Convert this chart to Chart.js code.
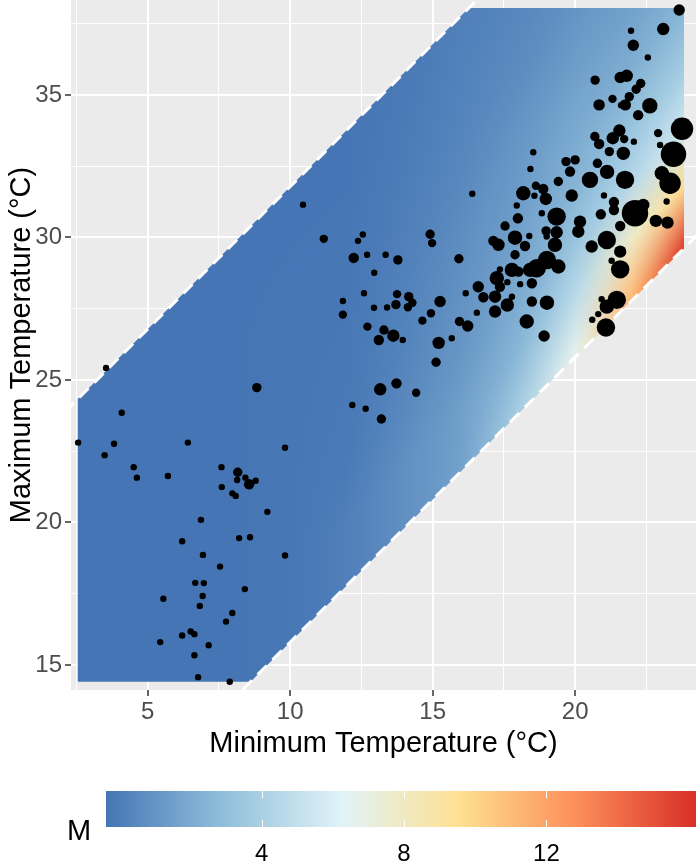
<!DOCTYPE html>
<html>
<head>
<meta charset="utf-8">
<script src="https://cdn.jsdelivr.net/npm/chart.js@4.4.1/dist/chart.umd.min.js"></script>
<style>
  html, body { margin: 0; padding: 0; background: #fff; }
</style>
</head>
<body>
<canvas id="chart" width="696" height="861"></canvas>
<script>
// observed days: minimum / maximum temperature (°C) and marker size value
const tminVals = [
  2.56,3.54,4.09,3.82,3.49,4.51,4.62,5.71,6.41,8.83,9.82,7.59,8.16,8.14,8.43,8.56,8.79,7.60,7.97,8.09,9.20,6.87,6.21,8.21,8.59,6.94,9.82,7.54,6.67,6.97,8.41,5.55,6.93,6.83,7.97,7.75,5.44,6.21,6.51,6.64,7.14,6.64,6.77,7.88,
  10.45,11.18,12.55,12.38,12.23,12.70,13.35,13.78,12.95,14.91,14.98,12.59,11.85,11.85,12.94,13.40,13.75,13.71,14.16,14.29,14.13,15.26,14.94,14.64,12.71,13.29,13.62,13.11,13.95,15.21,15.12,13.16,13.73,14.42,12.18,12.65,13.20,
  18.53,18.43,
  23.65,23.09,21.96,22.04,22.55,20.70,21.58,21.81,22.30,22.14,21.90,21.31,20.84,21.76,21.61,22.62,22.21,23.75,22.91,22.98,23.45,21.55,21.32,20.69,20.84,21.72,22.06,21.20,21.69,19.68,20.00,20.78,21.12,
  19.82,20.52,21.75,19.88,21.01,21.36,21.36,20.90,22.10,22.39,22.83,23.24,23.21,23.33,23.04,20.17,20.11,21.58,21.11,20.58,21.58,21.28,21.58,21.46,21.11,20.93,20.81,20.60,21.08,
  16.39,18.18,18.62,18.88,18.97,18.57,19.41,17.95,17.99,18.83,19.35,17.54,18.98,19.35,17.89,18.39,17.13,17.31,18.24,19.00,19.29,15.92,17.89,19.01,18.65,18.42,17.78,18.01,17.36,19.41,17.25,18.48,18.07,17.62,17.36,16.60,16.16,16.78,17.19,17.78,17.62,18.48,19.01,16.55,17.19,18.30,15.94,16.23,18.91,15.67
];
const tmaxVals = [
  22.80,25.42,23.85,22.76,22.36,21.94,21.57,21.63,22.80,24.73,22.62,21.94,21.76,21.49,21.57,21.34,21.46,21.24,21.02,20.93,20.37,20.09,19.34,19.45,19.48,18.86,18.84,18.45,17.88,17.87,17.66,17.32,17.42,17.07,16.82,16.52,15.80,16.03,16.17,16.08,15.69,15.34,14.57,14.41,
  31.15,29.95,30.10,29.88,29.28,29.39,29.39,29.21,28.76,30.11,29.80,28.04,27.77,27.29,27.53,27.54,28.01,27.64,27.92,27.71,27.55,27.75,27.34,27.08,26.87,26.75,26.55,26.40,26.40,26.30,25.62,24.67,24.88,24.55,24.12,23.99,23.63,
  32.99,32.40,
  37.98,37.31,37.25,36.74,36.31,35.52,35.61,35.67,35.40,35.20,34.94,34.86,34.65,34.65,34.64,34.62,34.29,33.81,33.66,33.24,32.92,33.75,33.48,33.54,33.28,33.45,33.36,33.01,32.95,32.66,32.72,32.60,32.30,
  32.31,32.02,32.02,31.47,31.47,31.24,30.96,30.81,30.85,31.14,30.58,30.52,31.26,31.90,32.25,30.55,30.20,30.40,29.91,29.68,29.50,29.18,28.88,27.81,27.57,27.83,27.31,27.11,26.84,
  31.53,31.55,31.81,31.70,31.35,31.46,31.96,31.12,30.67,30.85,30.73,30.40,30.23,30.18,29.99,30.05,29.88,29.74,29.70,30.03,29.74,29.25,29.39,29.21,28.92,28.86,28.86,28.80,28.88,28.98,28.57,28.39,28.36,28.43,28.27,28.27,28.04,27.90,27.92,27.92,27.63,27.75,27.71,27.36,27.40,27.05,27.05,26.89,26.54,26.46
];
const sizeVals = [
  0,0,0,0,0,0,0,0,0,1.5,0,0,1.5,0,0,2,0,0,0,0,0,0,0,0,0,0,0,0,0,0,0,0,0,0,0,0,0,0,0,0,0,0,0,0,
  0,1,0,0,2,0,0,1.5,0,1.5,1,0,0,1,0,0,1,1.5,1.5,1,1,2.5,1,1,1,1.5,3,2,0,3,1.5,3,2,1,0,0,1.5,
  0,0,
  2.5,3,0,2.5,0,1.5,2.5,3,1.5,1.5,1.5,1,2.5,2.5,0,4.5,2,8,1,0,9.5,3,3,1.5,2,1,0,1.5,3.5,1.5,1.5,1.5,4,
  2,5,6,3,0,2,2,2,10,3,3,3,0,7.5,4,3,3,2,6,3,3,0,6,6,4,0,0,0,6,
  0,4,1,2,3,0,1.5,0,2,0,6,1.5,1.5,3,4,0,2,3,2,0,4,1.5,1.5,6,6,4,4,2,0,4,4,2,0,0,2,2.5,0,2,3,0,3.5,2,4,0,3,4,1.5,2.5,2.5,0
];

// modelled surface M: rows = diurnal range (Tmax - Tmin), columns = Tmin
const gridTmin = [2, 4, 6, 8, 10, 12, 14, 16, 18, 20, 22, 24];
const gridRange = [4, 6, 8, 10, 12, 14, 16, 18, 20, 22];
const gridM = [
  [-0.37,-0.37,-0.37,-0.37,-0.3, 0.2, 1.0, 2.2, 4.8, 8.4,13.2,17.5],
  [-0.37,-0.37,-0.37,-0.37,-0.3, 0.1, 0.8, 1.6, 3.8, 6.6,11.0,15.8],
  [-0.37,-0.37,-0.37,-0.37,-0.3, 0.1, 0.8, 1.5, 2.6, 4.6, 7.8, 9.8],
  [-0.37,-0.37,-0.37,-0.37,-0.3,-0.1, 0.5, 1.1, 2.0, 3.2, 4.5, 5.6],
  [-0.37,-0.37,-0.37,-0.37,-0.3,-0.2, 0.3, 0.9, 1.6, 2.4, 3.2, 3.9],
  [-0.37,-0.37,-0.37,-0.37,-0.3,-0.25,0.2, 0.7, 1.3, 1.9, 2.2, 2.7],
  [-0.37,-0.37,-0.37,-0.37,-0.3,-0.3, 0.1, 0.5, 1.0, 1.4, 1.6, 2.0],
  [-0.37,-0.37,-0.37,-0.37,-0.3,-0.3, 0.0, 0.3, 0.6, 1.0, 1.3, 1.6],
  [-0.37,-0.37,-0.37,-0.37,-0.35,-0.35,-0.1,0.2, 0.4, 0.7, 1.0, 1.2],
  [-0.37,-0.37,-0.37,-0.37,-0.37,-0.37,-0.2,0.1, 0.3, 0.5, 0.8, 1.0]
];

// extent of the modelled region
const tminLimits = [2.55, 23.82];
const tmaxLimits = [14.41, 38.05];
const rangeLimits = [5.8, 21.78];   // dashed lines: Tmax = Tmin + range

// axes and colour bar
const xLimits = [2.31, 24.24];
const yLimits = [14.12, 38.33];
const mLimits = [-0.37, 16.2];
const mTicks = [4, 8, 12];
const palette = ['#4575b4', '#91bfdb', '#e0f3f8', '#fee090', '#fc8d59', '#d73027'];

const FONT = "'Liberation Sans', Arial, sans-serif";
Chart.defaults.font.family = FONT;

function hexToRgb(h) {
  const n = parseInt(h.slice(1), 16);
  return [(n >> 16) & 255, (n >> 8) & 255, n & 255];
}
const palRgb = palette.map(hexToRgb);

function colourFor(m) {
  let t = (m - mLimits[0]) / (mLimits[1] - mLimits[0]);
  t = Math.min(1, Math.max(0, t)) * (palRgb.length - 1);
  const i = Math.min(Math.floor(t), palRgb.length - 2);
  const f = t - i;
  const a = palRgb[i], b = palRgb[i + 1];
  return [0, 1, 2].map(k => Math.round(a[k] + (b[k] - a[k]) * f));
}

const panelBg = {
  id: 'panelBg',
  beforeDraw(chart) {
    const { ctx, chartArea: a } = chart;
    ctx.save();
    ctx.fillStyle = '#ebebeb';
    ctx.fillRect(a.left, a.top, a.width, a.height);
    ctx.restore();
  }
};

const surface = {
  id: 'surface',
  beforeDatasetsDraw(chart) {
    const { ctx, chartArea: a, scales: { x, y } } = chart;
    const nc = gridTmin.length, nr = gridRange.length;
    const off = document.createElement('canvas');
    off.width = nc; off.height = nr;
    const octx = off.getContext('2d');
    const img = octx.createImageData(nc, nr);
    for (let j = 0; j < nr; j++) {
      for (let i = 0; i < nc; i++) {
        const c = colourFor(gridM[j][i]);
        const p = (j * nc + i) * 4;
        img.data[p] = c[0]; img.data[p + 1] = c[1]; img.data[p + 2] = c[2]; img.data[p + 3] = 255;
      }
    }
    octx.putImageData(img, 0, 0);

    const [t0, t1] = tminLimits, [h0, h1] = tmaxLimits, [r0, r1] = rangeLimits;
    const poly = [[t0, h0], [h0 - r0, h0], [t1, t1 + r0], [t1, h1], [h1 - r1, h1], [t0, t0 + r1]];

    ctx.save();
    ctx.beginPath();
    ctx.rect(a.left, a.top, a.width, a.height);
    ctx.clip();
    ctx.beginPath();
    poly.forEach(([tx, ty], k) => {
      const px = x.getPixelForValue(tx), py = y.getPixelForValue(ty);
      if (k) ctx.lineTo(px, py); else ctx.moveTo(px, py);
    });
    ctx.closePath();
    ctx.clip();

    // grid cell (i, j) sits at (Tmin, Tmin + range): an affine map onto the plot
    const ax = x.getPixelForValue(0), bx = x.getPixelForValue(1) - ax;
    const ay = y.getPixelForValue(0), by = y.getPixelForValue(1) - ay;
    const dT = gridTmin[1] - gridTmin[0], dR = gridRange[1] - gridRange[0];
    const T0 = gridTmin[0] - dT / 2, R0 = gridRange[0] - dR / 2;
    ctx.imageSmoothingEnabled = true;
    ctx.transform(bx * dT, by * dT, 0, by * dR, ax + bx * T0, ay + by * (T0 + R0));
    ctx.drawImage(off, 0, 0);
    ctx.restore();
  }
};

const colourbar = {
  id: 'colourbar',
  afterDraw(chart) {
    const ctx = chart.ctx;
    const left = 106, right = 696, top = 791, h = 36;
    const mx = m => left + (m - mLimits[0]) / (mLimits[1] - mLimits[0]) * (right - left);
    ctx.save();
    const g = ctx.createLinearGradient(left, 0, right, 0);
    palette.forEach((c, k) => g.addColorStop(k / (palette.length - 1), c));
    ctx.fillStyle = g;
    ctx.fillRect(left, top, right - left, h);
    ctx.strokeStyle = '#fff';
    ctx.lineWidth = 1;
    mTicks.forEach(m => {
      const px = Math.round(mx(m)) + 0.5;
      ctx.beginPath();
      ctx.moveTo(px, top); ctx.lineTo(px, top + h / 5);
      ctx.moveTo(px, top + h); ctx.lineTo(px, top + h * 4 / 5);
      ctx.stroke();
    });
    ctx.fillStyle = '#000';
    ctx.textAlign = 'center';
    ctx.textBaseline = 'alphabetic';
    ctx.font = '24px ' + FONT;
    mTicks.forEach(m => ctx.fillText(String(m), mx(m), 861));
    ctx.font = '29px ' + FONT;
    ctx.fillText('M', 79, 840);
    ctx.restore();
  }
};

const isMajor = c => c.tick && Math.abs(c.tick.value % 5) < 1e-9;

new Chart(document.getElementById('chart'), {
  type: 'scatter',
  data: {
    datasets: [
      {
        label: 'days',
        data: tminVals.map((t, i) => ({ x: t, y: tmaxVals[i] })),
        pointRadius: c => 3.2 + sizeVals[c.dataIndex],
        pointHoverRadius: c => 3.2 + sizeVals[c.dataIndex],
        pointBackgroundColor: '#000',
        pointBorderWidth: 0
      },
      ...rangeLimits.map(r => ({
        type: 'line',
        label: 'range ' + r,
        data: [{ x: 0, y: r }, { x: 30, y: 30 + r }],
        borderColor: '#fff',
        borderWidth: 3,
        borderDash: [13, 8],
        pointRadius: 0,
        fill: false
      }))
    ]
  },
  options: {
    responsive: false,
    animation: false,
    events: [],
    layout: { padding: 0, autoPadding: false },
    plugins: { legend: { display: false }, tooltip: { enabled: false } },
    scales: {
      x: {
        type: 'linear',
        min: xLimits[0],
        max: xLimits[1],
        border: { display: false },
        grid: {
          color: '#fff',
          lineWidth: c => isMajor(c) ? 2 : 1,
          tickLength: 6,
          tickWidth: 1.5,
          tickColor: c => isMajor(c) ? '#333' : 'rgba(0,0,0,0)'
        },
        ticks: {
          stepSize: 2.5,
          includeBounds: false,
          autoSkip: false,
          maxRotation: 0,
          padding: 2,
          color: '#4d4d4d',
          font: { size: 24 },
          callback: v => (Math.abs(v % 5) < 1e-9 ? String(v) : '')
        },
        title: {
          display: true,
          text: 'Minimum Temperature (°C)',
          color: '#000',
          font: { size: 29 },
          padding: { top: 0, bottom: 99.6 }
        },
        afterFit: s => { s.height = 171; s.paddingLeft = 0; s.paddingRight = 0; }
      },
      y: {
        type: 'linear',
        min: yLimits[0],
        max: yLimits[1],
        border: { display: false },
        grid: {
          color: '#fff',
          lineWidth: c => isMajor(c) ? 2 : 1,
          tickLength: 6,
          tickWidth: 1.5,
          tickColor: c => isMajor(c) ? '#333' : 'rgba(0,0,0,0)'
        },
        ticks: {
          stepSize: 2.5,
          includeBounds: false,
          autoSkip: false,
          padding: 3,
          color: '#4d4d4d',
          font: { size: 24 },
          callback: v => (Math.abs(v % 5) < 1e-9 ? String(v) : '')
        },
        title: {
          display: true,
          text: 'Maximum Temperature (°C)',
          color: '#000',
          font: { size: 29 },
          padding: { top: 4.6, bottom: 0 }
        },
        afterFit: s => { s.width = 71; s.paddingTop = 0; s.paddingBottom = 0; }
      }
    }
  },
  plugins: [panelBg, surface, colourbar]
});
</script>
</body>
</html>
